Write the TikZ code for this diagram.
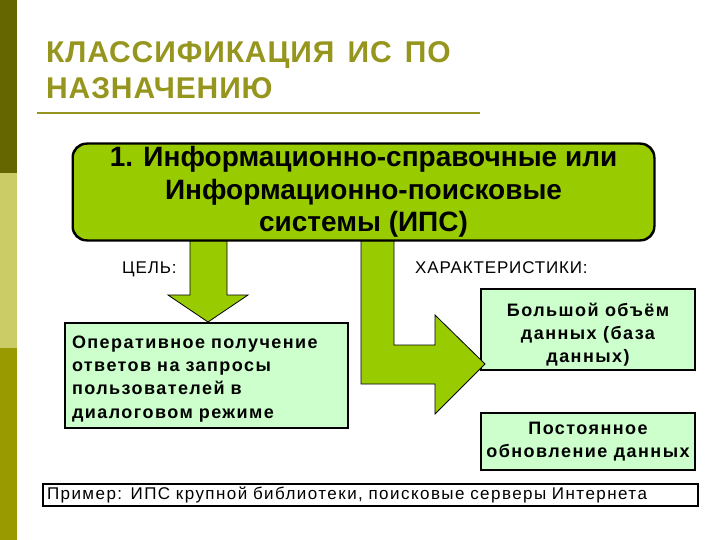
\documentclass[tikz,border=0pt]{standalone}
\usepackage{fontspec}
\setmainfont{Liberation Sans}
\newfontfamily\spacedA[LetterSpace=8]{Liberation Sans}
\newfontfamily\spacedB[LetterSpace=8.5]{Liberation Sans}
\newfontfamily\spacedC[LetterSpace=5]{Liberation Sans}
\newfontfamily\titlefont[LetterSpace=3]{Liberation Sans}
\definecolor{barA}{RGB}{102,102,0}
\definecolor{barB}{RGB}{204,204,102}
\definecolor{barC}{RGB}{153,153,0}
\definecolor{titlecol}{RGB}{150,150,30}
\definecolor{boxgreen}{RGB}{153,204,0}
\definecolor{lightgreen}{RGB}{204,255,204}
\begin{document}
\begin{tikzpicture}[x=1pt,y=-1pt,
  titletext/.style={inner sep=0pt, align=left, text=titlecol, font=\titlefont\bfseries\fontsize{30}{36}\selectfont},
  mainbox/.style={draw=black, line width=1.5pt, fill=boxgreen, rounded corners=14pt,
    minimum width=581pt, minimum height=96pt, inner sep=0pt, align=center,
    font=\bfseries\fontsize{28}{32.5}\selectfont},
  lightbox/.style={draw=black, line width=2pt, fill=lightgreen, inner ysep=0pt,
    font=\spacedA\bfseries\fontsize{18}{23.3}\selectfont},
  examplebox/.style={draw=black, line width=2pt, fill=white, inner ysep=0pt, inner xsep=4pt,
    minimum height=22pt, text width=647pt, align=left,
    font=\spacedB\fontsize{17}{18}\selectfont},
  captext/.style={inner sep=0pt, font=\spacedC\fontsize{17}{18}\selectfont},
  blockarrow/.style={fill=boxgreen, draw=black, line width=0.8pt, line join=miter}
]
\useasboundingbox (0,0) rectangle (720,540);
\fill[white] (0,0) rectangle (720,540);
% left bar
\fill[barA] (0,0) rectangle (17,173);
\fill[barB] (0,173) rectangle (17,348);
\fill[barC] (0,348) rectangle (17,540);
% title
\node[titletext, anchor=north west] (title) at (46,41.5) {КЛАССИФИКАЦИЯ\hspace{4pt} ИС\hspace{4pt} ПО\\НАЗНАЧЕНИЮ};
\draw[titlecol, line width=2.5pt] (37,113) -- (480,113);
% boxes
\node[mainbox] (main) at (363.5,192) {1. Информационно-справочные или\\Информационно-поисковые\\системы (ИПС)};
\node[lightbox, minimum width=283pt, minimum height=105pt, text width=269pt, inner xsep=7pt, align=left]
  (goal) at (206.5,375.5) {\rule{0pt}{19pt}Оперативное получение\\ответов на запросы\\пользователей в\\диалоговом режиме};
\node[lightbox, minimum width=214pt, minimum height=81pt, align=center]
  (big) at (588,329.5) {\rule{0pt}{24pt}Большой объём\\данных (база\\данных)};
\node[lightbox, minimum width=214pt, minimum height=57pt, align=center]
  (upd) at (588,441.5) {Постоянное\\обновление данных};
% arrows
\draw[blockarrow] (190,0 |- main.south) -- (190,295) -- (168,295) -- (208,0 |- goal.north)
  -- (248,295) -- (227,295) -- (227,0 |- main.south) -- cycle;
\draw[blockarrow] (361,0 |- main.south) -- (361,384) -- (435,384) -- (435,414) -- (485,364)
  -- (435,315) -- (435,345) -- (394,345) -- (394,0 |- main.south) -- cycle;
% main box border on top of the arrow shafts
\draw[line width=1.5pt, rounded corners=14pt] (main.south west) rectangle (main.north east);
% captions
\node[captext, anchor=base west] (goalcap) at (122,273) {ЦЕЛЬ:};
\node[captext, anchor=base west] (charcap) at (415,273) {ХАРАКТЕРИСТИКИ:};
% example
\node[examplebox] (example) at (370.5,495) {Пример: ИПС крупной библиотеки, поисковые серверы Интернета};
\end{tikzpicture}
\end{document}
